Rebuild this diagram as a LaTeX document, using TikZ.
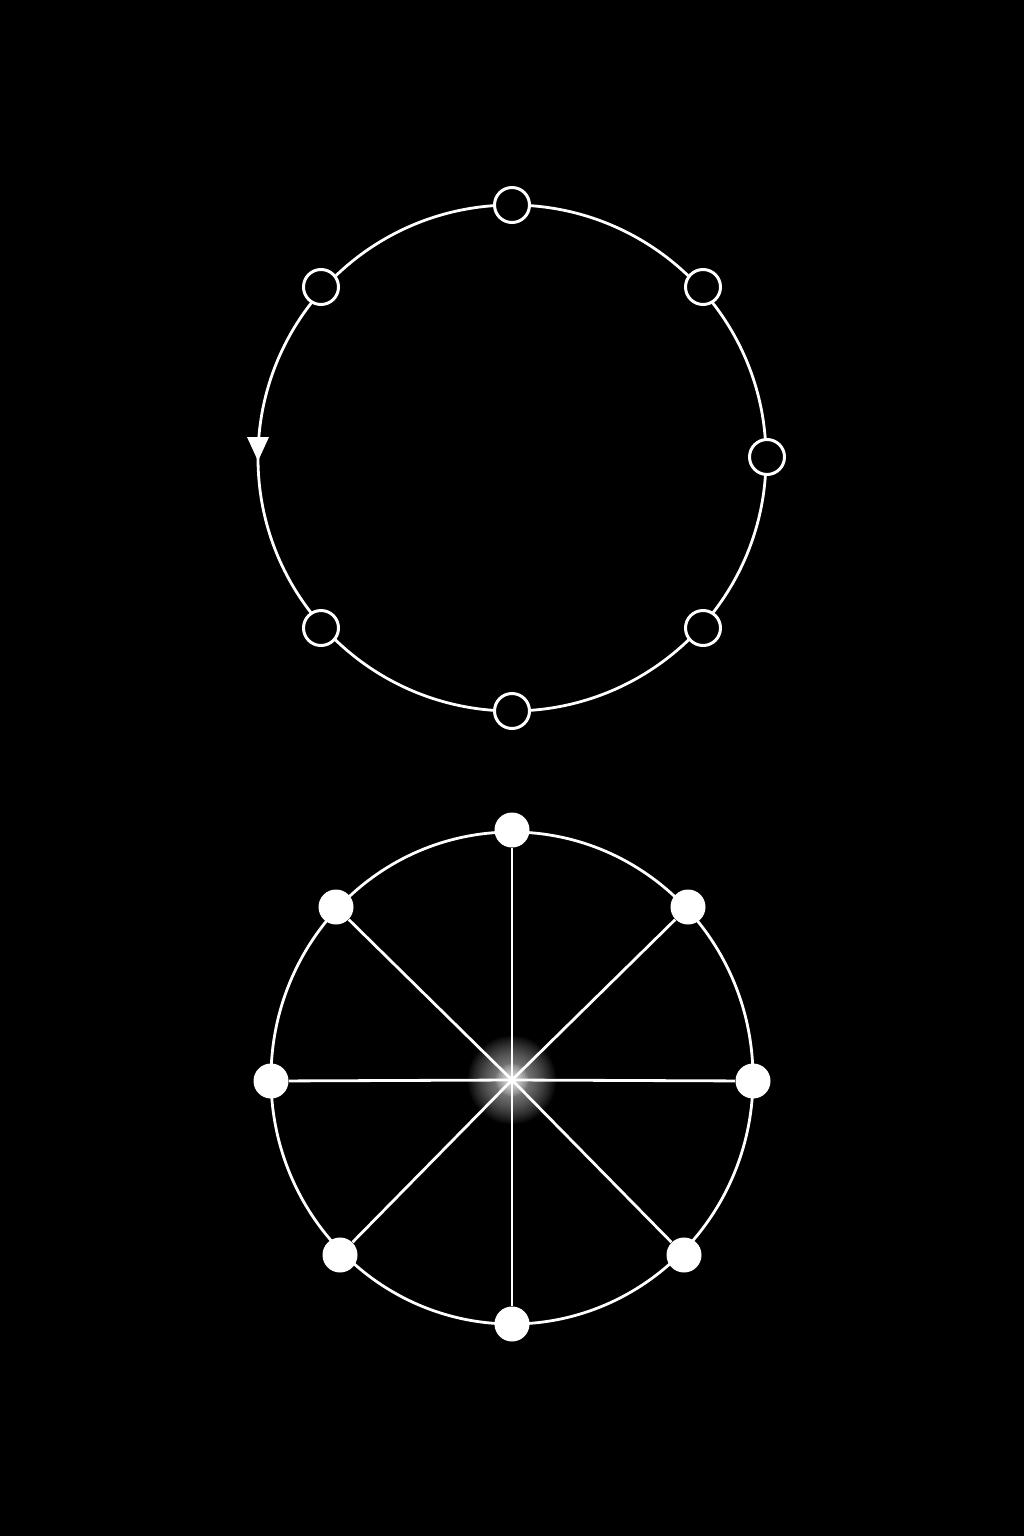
\documentclass[tikz,border=0pt]{standalone}
\begin{document}
\begin{tikzpicture}[x=0.5pt,y=-0.5pt,
  ring/.style={draw=white,line width=1.4pt},
  opennode/.style={circle,draw=white,fill=black,line width=1.5pt,minimum size=17.5pt,inner sep=0pt},
  dotnode/.style={circle,fill=white,minimum size=17.5pt,inner sep=0pt},
  spoke/.style={draw=white,line width=1.4pt}]
\fill[black] (0,0) rectangle (1024,1536);
\useasboundingbox (0,0) rectangle (1024,1536);
% top ring
\draw[ring] (512,458) ellipse [x radius=254, y radius=253];
\fill[white] (247,437) -- (269,437) -- (258,461) -- cycle;
\node[opennode] (t1) at (512,205) {};
\node[opennode] (t2) at (703,287) {};
\node[opennode] (t3) at (767,457) {};
\node[opennode] (t4) at (703,628) {};
\node[opennode] (t5) at (512,711) {};
\node[opennode] (t6) at (321,628) {};
\node[opennode] (t7) at (321,287) {};
% bottom ring
\coordinate (c) at (512,1080);
\draw[ring] (512,1078) ellipse [x radius=241, y radius=246];
\foreach \r in {44,42,...,4}
  \fill[white,opacity=0.045] (c) circle[radius=\r];
\node[dotnode] (b1) at (512,830) {};
\node[dotnode] (b2) at (688,907) {};
\node[dotnode] (b3) at (753,1081) {};
\node[dotnode] (b4) at (684,1255) {};
\node[dotnode] (b5) at (512,1324) {};
\node[dotnode] (b6) at (340,1255) {};
\node[dotnode] (b7) at (271,1081) {};
\node[dotnode] (b8) at (336,907) {};
\foreach \n in {b1,b2,b3,b4,b5,b6,b7,b8}
  \draw[spoke] (c) -- (\n);
\foreach \r in {16,14,...,2}
  \fill[white,opacity=0.12] (c) circle[radius=\r];
\fill[white] (c) circle[radius=4];
\end{tikzpicture}
\end{document}
